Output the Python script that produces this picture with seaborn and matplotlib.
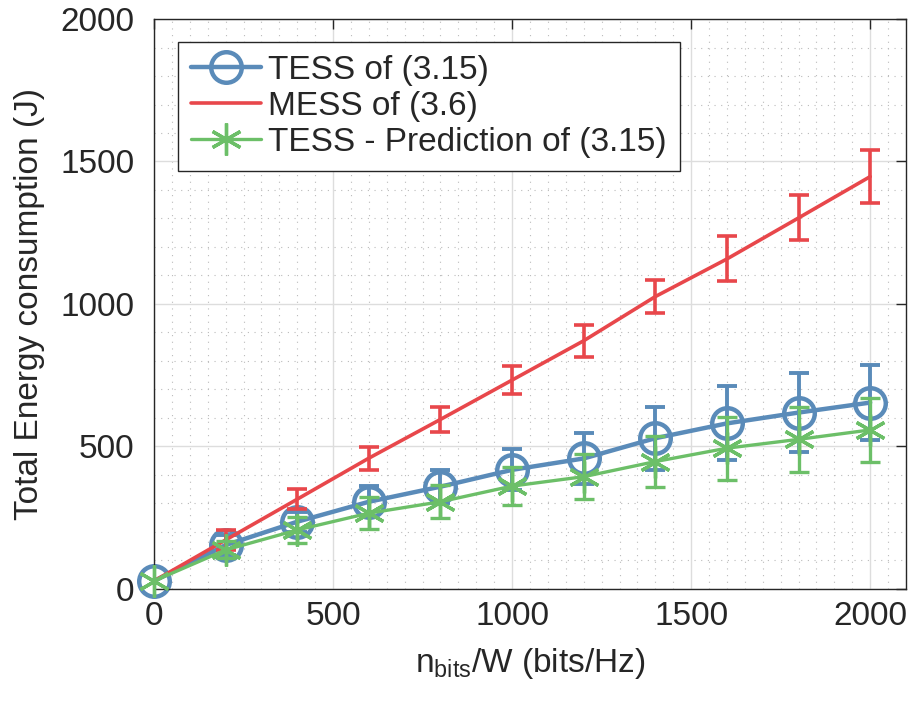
import numpy as np
import pandas as pd
import matplotlib
matplotlib.use("Agg")
import matplotlib.pyplot as plt
import seaborn as sns
from matplotlib.ticker import MultipleLocator

# ---- data ----
x_vals = [0, 200, 400, 600, 800, 1000, 1200, 1400, 1600, 1800, 2000]
tess = [28, 154, 236, 306, 359, 418, 458, 529, 581, 619, 654]
tess_err = [0, 35, 35, 55, 58, 72, 88, 110, 130, 140, 132]
mess = [28, 172, 315, 459, 595, 733, 871, 1026, 1158, 1302, 1447]
mess_err = [0, 35, 35, 40, 45, 50, 56, 58, 79, 79, 93]
pred = [28, 137, 207, 266, 306, 361, 394, 447, 494, 525, 558]
pred_err = [0, 30, 45, 55, 58, 66, 79, 90, 110, 114, 112]

labels = ["TESS of (3.15)", "MESS of (3.6)", "TESS - Prediction of (3.15)"]
x_label = "n$_{\\mathrm{bits}}$/W (bits/Hz)"
y_label = "Total Energy consumption (J)"

c_blue = "#5a8bb9"
c_red = "#e8474b"
c_green = "#6cbf68"

sns.set_theme(style="white")
plt.rcParams['font.family'] = ['Liberation Sans', 'DejaVu Sans']
plt.rcParams['mathtext.fontset'] = 'custom'
plt.rcParams['mathtext.rm'] = 'Liberation Sans'

fig = plt.figure(figsize=(9.13, 7.04), dpi=100)
ax = fig.add_axes([0.1687, 0.1634, 0.8236, 0.8096])

df = pd.DataFrame({"x": x_vals * 3,
                   "y": tess + mess + pred,
                   "s": [labels[0]] * 11 + [labels[1]] * 11 + [labels[2]] * 11})

# errorbars (matplotlib, under the lines)
ax.errorbar(x_vals[1:], tess[1:], yerr=tess_err[1:], fmt='none', ecolor=c_blue,
            elinewidth=2.8, capsize=7, capthick=2.8, zorder=2)
ax.errorbar(x_vals[1:], mess[1:], yerr=mess_err[1:], fmt='none', ecolor=c_red,
            elinewidth=2.6, capsize=7, capthick=2.6, zorder=3)
ax.errorbar(x_vals[1:], pred[1:], yerr=pred_err[1:], fmt='none', ecolor=c_green,
            elinewidth=2.4, capsize=7, capthick=2.4, zorder=4)

sns.lineplot(data=df[df.s == labels[0]], x="x", y="y", ax=ax, color=c_blue,
             lw=3.2, marker='o', markersize=22, markerfacecolor='none',
             markeredgecolor=c_blue, markeredgewidth=3.2, label=labels[0], zorder=2.5,
             clip_on=False)
sns.lineplot(data=df[df.s == labels[1]], x="x", y="y", ax=ax, color=c_red,
             lw=2.6, label=labels[1], zorder=3.5)
sns.lineplot(data=df[df.s == labels[2]], x="x", y="y", ax=ax, color=c_green,
             lw=2.4, marker=(6, 2, 0), markersize=23, markeredgecolor=c_green,
             markeredgewidth=2.4, label=labels[2], zorder=4.5, clip_on=False)

ax.set_xlim(0, 2100)
ax.set_ylim(0, 2000)
ax.xaxis.set_major_locator(MultipleLocator(500))
ax.yaxis.set_major_locator(MultipleLocator(500))
ax.xaxis.set_minor_locator(MultipleLocator(50))
ax.yaxis.set_minor_locator(MultipleLocator(100))

ax.grid(which='major', color='#dddddd', lw=1.0, ls='-')
ax.grid(which='minor', color='#bbbbbb', lw=0.8, ls=(0, (1, 5)))
ax.set_axisbelow(True)

for sp in ax.spines.values():
    sp.set_visible(True)
    sp.set_color('#262626')
    sp.set_linewidth(1.0)

ax.tick_params(which='major', direction='in', length=7, width=1.0, top=True, right=True,
               labelsize=24, labelcolor='#262626', color='#262626', pad=9)
ax.tick_params(which='minor', length=0)
ax.tick_params(axis='y', pad=14)

ax.set_xlabel(x_label, fontsize=24, color='#262626', labelpad=10)
ax.set_ylabel(y_label, fontsize=24, color='#262626', labelpad=11)

leg = ax.legend(loc='upper left', bbox_to_anchor=(0.032, 0.96), fontsize=24,
                frameon=True, fancybox=False, edgecolor='#262626', framealpha=1,
                handlelength=2.1, handletextpad=0.2, borderpad=0.4, labelspacing=0.15,
                borderaxespad=0)
leg.get_frame().set_linewidth(1.0)

fig.savefig("out.png", dpi=100)
